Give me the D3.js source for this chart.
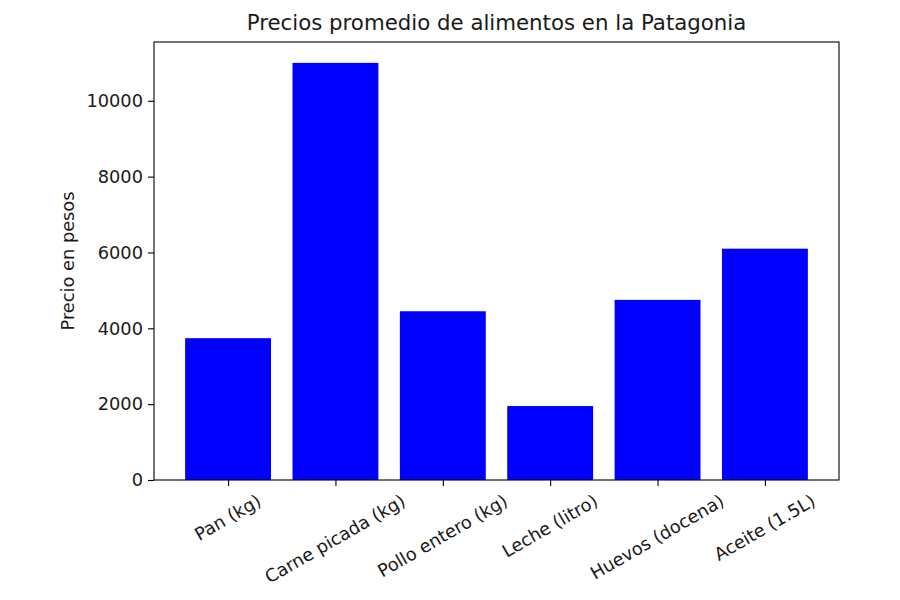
<!DOCTYPE html>
<html>
<head>
<meta charset="utf-8">
<script src="https://cdn.jsdelivr.net/npm/d3@7/dist/d3.min.js"></script>
<style>
  body { margin: 0; background: #fff; }
  text { font-family: "DejaVu Sans", sans-serif; fill: #1a1a1a; }
</style>
</head>
<body>
<svg id="chart" width="900" height="600"></svg>
<script>
// data
const categories = ["Pan (kg)", "Carne picada (kg)", "Pollo entero (kg)", "Leche (litro)", "Huevos (docena)", "Aceite (1.5L)"];
const prices = [3740, 11000, 4450, 1950, 4750, 6100];
const yTicks = [0, 2000, 4000, 6000, 8000, 10000];

const margin = { top: 42, right: 61, bottom: 120, left: 154 },
	width = 900,
	height = 600;

const svg = d3.select("#chart");

const fs = 17.8;

// matplotlib-like autoscale: bars of width 0.8, 5% margins
const barW = 0.8;
const xLo = -barW / 2, xHi = categories.length - 1 + barW / 2;
const xPad = (xHi - xLo) * 0.05;
const x = d3.scaleLinear()
	.domain([xLo - xPad, xHi + xPad])
	.range([margin.left, width - margin.right]);

const yMax = d3.max(prices) * 1.05;
const y = d3.scaleLinear()
	.domain([0, yMax])
	.range([height - margin.bottom, margin.top]);

// bars
svg.append("g")
	.selectAll("rect")
	.data(prices)
	.join("rect")
	.attr("x", (d, i) => x(i - barW / 2))
	.attr("width", (d, i) => x(i + barW / 2) - x(i - barW / 2))
	.attr("y", d => y(d))
	.attr("height", d => y(0) - y(d))
	.attr("fill", "#0000ff");

// y axis
const yAxis = svg.append("g")
	.attr("transform", `translate(${margin.left},0)`)
	.call(d3.axisLeft(y).tickValues(yTicks).tickFormat(d3.format("d")).tickSize(6).tickPadding(5));
yAxis.select(".domain").remove();
yAxis.selectAll("text").style("font-size", fs + "px").style("font-family", "DejaVu Sans");
yAxis.selectAll("line").attr("stroke", "#000").attr("stroke-width", 1.1);

// x axis ticks
const xAxis = svg.append("g")
	.attr("transform", `translate(0,${height - margin.bottom})`)
	.call(d3.axisBottom(x).tickValues(d3.range(categories.length)).tickFormat(i => categories[i]).tickSize(6));
xAxis.select(".domain").remove();
xAxis.selectAll("line").attr("stroke", "#000").attr("stroke-width", 1.1);

// rotated labels, bounding box centred on tick (ha='center', rotation=30)
const angle = 30 * Math.PI / 180;
xAxis.selectAll("text")
	.style("font-size", fs + "px")
	.style("font-family", "DejaVu Sans")
	.attr("text-anchor", "middle")
	.attr("dominant-baseline", "central")
	.attr("dy", null)
	.each(function (i) {
		const w = this.getComputedTextLength();
		const h = fs * 1.17;
		const bh = w * Math.sin(angle) + h * Math.cos(angle);
		const top = 10;
		d3.select(this)
			.attr("y", null)
			.attr("transform", `translate(-1,${top + bh / 2}) rotate(-30)`);
	});

// frame
svg.append("rect")
	.attr("x", margin.left)
	.attr("y", margin.top)
	.attr("width", width - margin.left - margin.right)
	.attr("height", height - margin.top - margin.bottom)
	.attr("fill", "none")
	.attr("stroke", "#000")
	.attr("stroke-width", 1.1);

// title
svg.append("text")
	.attr("x", (margin.left + width - margin.right) / 2)
	.attr("y", 30)
	.attr("text-anchor", "middle")
	.style("font-size", "21.3px")
	.text("Precios promedio de alimentos en la Patagonia");

// y label
svg.append("text")
	.attr("transform", `translate(74,${(margin.top + height - margin.bottom) / 2}) rotate(-90)`)
	.attr("text-anchor", "middle")
	.style("font-size", fs + "px")
	.text("Precio en pesos");
</script>
</body>
</html>
